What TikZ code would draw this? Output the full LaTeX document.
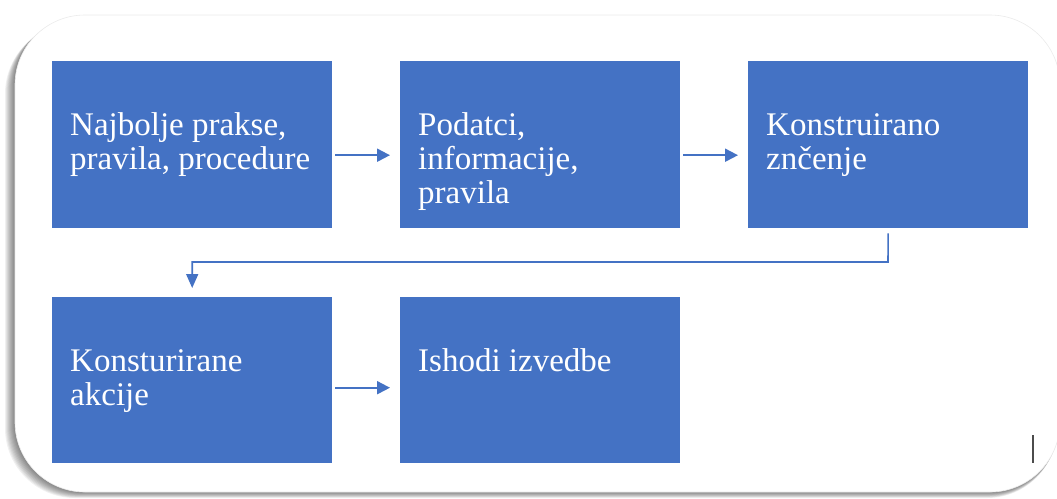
\documentclass[tikz,border=0pt]{standalone}
\usepackage{fontspec}
\setmainfont{Liberation Serif}
\usetikzlibrary{arrows.meta}
\definecolor{boxblue}{HTML}{4472C4}
\definecolor{framegray}{HTML}{EBEBEB}
\newcommand{\boxlines}[2]{\parbox[c][#1pt][t]{244pt}{\raggedright\fontsize{33pt}{34pt}\selectfont\vspace*{50pt}#2}}
\tikzset{
  stepbox/.style={fill=boxblue, draw=none, inner xsep=18pt, inner ysep=0pt,
    anchor=north west, text=white},
  flow/.style={draw=boxblue, line width=2pt, -{Triangle[length=13pt,width=13pt]}},
  elbow/.style={draw=boxblue, line width=1.6pt, -{Triangle[length=14pt,width=12pt]}},
}
\begin{document}
\begin{tikzpicture}[x=1pt,y=-1pt]
\useasboundingbox (0,0) rectangle (1057,498);
% soft shadow under the frame, falling to the lower left
\foreach \k in {1,...,10}{
  \fill[black, opacity=0.06, rounded corners=70pt]
    (15-1.0*\k,15+0.9*\k) rectangle (1060-0.3*\k,492+0.6*\k);
}
% white rounded frame
\fill[white, rounded corners=70pt] (15,15) rectangle (1060,492);
\draw[framegray, line width=0.6pt, rounded corners=70pt] (15,15) rectangle (1060,492);

% process boxes
\node[stepbox] (b1) at (52,61)  {\boxlines{167}{\strut Najbolje prakse,\\\strut pravila, procedure}};
\node[stepbox] (b2) at (400,61) {\boxlines{167}{\strut Podatci,\\\strut informacije,\\\strut pravila}};
\node[stepbox] (b3) at (748,61) {\boxlines{167}{\strut Konstruirano\\\strut znčenje}};
\node[stepbox] (b4) at (52,297) {\boxlines{166}{\strut Konsturirane\\\strut akcije}};
\node[stepbox] (b5) at (400,297){\boxlines{166}{\strut Ishodi izvedbe}};

% connectors
\draw[flow, shorten <=3pt, shorten >=10pt] ([yshift=-10.5pt]b1.east) -- ([yshift=-10.5pt]b2.west);
\draw[flow, shorten <=3pt, shorten >=10pt] ([yshift=-10.5pt]b2.east) -- ([yshift=-10.5pt]b3.west);
\draw[flow, shorten <=3pt, shorten >=10pt] ([yshift=-7.5pt]b4.east) -- ([yshift=-7.5pt]b5.west);
\coordinate (turn) at (888,262);
\draw[elbow, shorten <=5pt, shorten >=9pt] (b3.south) -- (turn) -| (b4.north);

% text cursor mark
\draw[gray!60!black, line width=1.8pt] (1033,435) -- (1033,463);
\end{tikzpicture}
\end{document}
